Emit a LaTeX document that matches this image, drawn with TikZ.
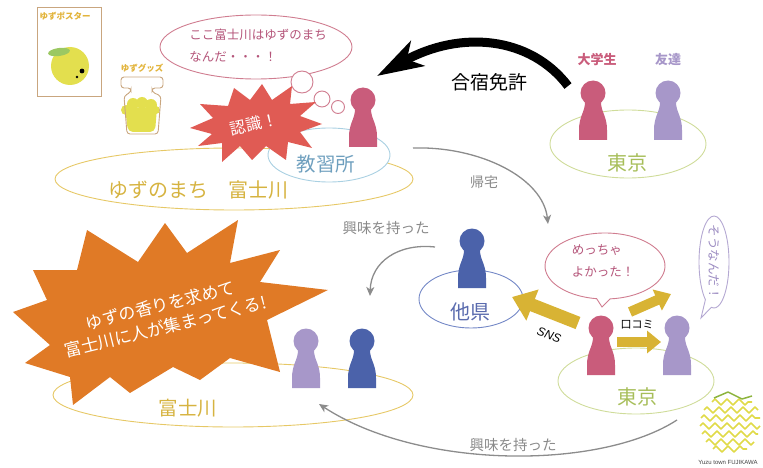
\documentclass[tikz,border=0pt]{standalone}
\usepackage{fontspec}
\setmainfont{Noto Sans CJK JP}
\newfontfamily\latinsans{Liberation Sans}
\usetikzlibrary{arrows.meta,shapes.geometric,decorations.pathmorphing}

\definecolor{pawnpink}{HTML}{C95C7B}
\definecolor{pawnlav}{HTML}{A797C9}
\definecolor{pawnblue}{HTML}{4B62AA}
\definecolor{goldline}{HTML}{E6C866}
\definecolor{goldtext}{HTML}{D6B340}
\definecolor{tokyoline}{HTML}{CFDC9A}
\definecolor{tokyotext}{HTML}{A7BE5A}
\definecolor{schoolline}{HTML}{A9D0E2}
\definecolor{schooltext}{HTML}{6E9FBE}
\definecolor{prefline}{HTML}{7387C6}
\definecolor{preftext}{HTML}{5A6BAE}
\definecolor{bubblepink}{HTML}{D07D90}
\definecolor{textpink}{HTML}{B5557A}
\definecolor{lavline}{HTML}{B4A8D2}
\definecolor{lavtext}{HTML}{9C8CC2}
\definecolor{arrowgrey}{HTML}{8C8C8C}
\definecolor{textgrey}{HTML}{8A8A8A}
\definecolor{arrowgold}{HTML}{D8B334}
\definecolor{burstred}{HTML}{E05B54}
\definecolor{burstorange}{HTML}{E07A26}
\definecolor{yuzu}{HTML}{E3DF4E}
\definecolor{leaf}{HTML}{9BC862}
\definecolor{frame}{HTML}{C9A67F}
\definecolor{posterlbl}{HTML}{E2B43C}
\definecolor{logoyellow}{HTML}{E0DA48}
\definecolor{logogreen}{HTML}{8DB43E}

\newcommand\jsz[2]{\fontsize{#1}{#2}\selectfont}

\tikzset{
  lbl/.style={inner sep=0pt, outer sep=0pt},
  place/.style={ellipse, draw, inner sep=0pt, line width=0.9pt},
  greyarrow/.style={draw=arrowgrey, line width=1.3pt,
    -{Stealth[length=9pt,width=8pt,inset=2.5pt]}},
  goldarrow/.style={draw=arrowgold},
  pawn/.pic={
    \fill (0,-47) circle (12.5);
    \fill (-14,0) -- (-14,-10) .. controls (-14,-24) and (-8,-28) .. (-8,-38)
      -- (8,-38) .. controls (8,-28) and (14,-24) .. (14,-10) -- (14,0) -- cycle;
  }
}

\begin{document}
\begin{tikzpicture}[x=1pt,y=-1pt]
\useasboundingbox (0,0) rectangle (763,468);

% ---- poster and goods ----
\node[draw=frame, line width=1.2pt, minimum width=64pt, minimum height=89pt,
      inner sep=0pt, anchor=north west] (poster) at (37,7) {};
\node[lbl, font=\jsz{8.5}{10}\bfseries, text=posterlbl] (posterlabel) at (65,16) {ゆずポスター};
\fill[yuzu] (70,66) circle (19);
\fill[leaf, rotate around={8:(59,52)}] (59,52) ellipse (11 and 4);
\fill (82,71) circle (2.4);
\fill (77,77) circle (1.4);

\node[lbl, font=\jsz{8.5}{10}\bfseries, text=posterlbl] (goodslabel) at (142,68) {ゆずグッズ};
\fill[yuzu] (126,110) circle (5) (133,104) circle (6) (142,103) circle (6)
            (151,105) circle (6) (156,110) circle (4);
\fill[yuzu, rounded corners=5] (125,108) -- (157,108) -- (155,132) -- (128,132) -- cycle;
\draw[frame, line width=0.9pt, rounded corners=3] (131,88) -- (121,88) -- (121,77)
  -- (163,77) -- (163,88) -- (152,88) -- (152,92) -- (161,96) -- (158,134)
  -- (127,134) -- (124,96) -- (131,92) -- cycle;

% ---- places ----
\node[place, draw=goldline, minimum width=358pt, minimum height=62pt] (yuzutown) at (234,179) {};
\node[place, draw=schoolline, fill=white, minimum width=122pt, minimum height=54pt] (school) at (329,155) {};
\node[place, draw=goldline, minimum width=360pt, minimum height=64pt] (fujikawa) at (233,395) {};
\node[place, draw=tokyoline, minimum width=156pt, minimum height=68pt] (tokyoA) at (628,144) {};
\node[place, draw=tokyoline, minimum width=156pt, minimum height=66pt] (tokyoB) at (636,381) {};
\node[place, draw=prefline, minimum width=104pt, minimum height=58pt] (pref) at (471,299) {};

\node[lbl, text=goldtext, font=\jsz{20}{24}] (yuzutownlbl) at (198,190) {ゆずのまち　富士川};
\node[lbl, text=schooltext, font=\jsz{19.5}{24}] (schoollbl) at (326,164) {教習所};
\node[lbl, text=goldtext, font=\jsz{19.5}{24}] (fujikawalbl) at (188,408) {富士川};
\node[lbl, text=tokyotext, font=\jsz{20}{24}] (tokyoAlbl) at (627,163) {東京};
\node[lbl, text=tokyotext, font=\jsz{20}{24}] (tokyoBlbl) at (637,397) {東京};
\node[lbl, text=preftext, font=\jsz{20}{24}] (preflbl) at (470,312) {他県};

% ---- thought bubble ----
\node[place, draw=bubblepink, fill=white, minimum width=192pt, minimum height=64pt] (thought) at (256,47) {};
\node[lbl, text=textpink, font=\jsz{12.5}{22}, align=left] (thoughttxt) at (258,46)
  {ここ富士川はゆずのまち\\なんだ・・・！};
\draw[bubblepink, line width=0.9pt, fill=white] (302,82) circle (11);
\draw[bubblepink, line width=0.9pt, fill=white] (322,99) circle (8);
\draw[bubblepink, line width=0.9pt, fill=white] (338,107) circle (6.5);

% ---- recognition burst ----
\fill[burstred] (190,128) -- (213,118) -- (200,104) -- (228,106) -- (234,88) -- (250,100)
  -- (262,84) -- (272,100) -- (292,86) -- (290,104) -- (316,102) -- (300,116)
  -- (322,124) -- (300,132) -- (312,148) -- (288,142) -- (286,160) -- (266,146)
  -- (252,160) -- (240,146) -- (222,162) -- (222,143) -- (198,146) -- (212,134) -- cycle;
\node[lbl, text=white, font=\jsz{16}{18}, rotate=13] (ninshiki) at (254,124) {認識！};

% ---- big orange burst ----
\fill[burstorange] (87,230) -- (138,262) -- (165,223) -- (187,253) -- (238,220) -- (230,263)
  -- (280,250) -- (260,282) -- (328,290) -- (267,320) -- (280,372) -- (230,358)
  -- (200,380) -- (173,367) -- (130,393) -- (110,377) -- (73,405) -- (70,377)
  -- (25,363) -- (50,345) -- (13,312) -- (47,300) -- (33,270) -- (77,270) -- cycle;
\node[lbl, text=white, font=\jsz{17}{22}, align=center, rotate=14] (gather) at (163,316)
  {ゆずの香りを求めて\\富士川に人が集まってくる!};

% ---- people ----
\pic[color=pawnpink] (studentA) at (363,147) {pawn};
\pic[color=pawnpink] (studentB) at (593,140) {pawn};
\pic[color=pawnlav]  (friendB)  at (668,140) {pawn};
\pic[color=pawnblue] (other)    at (472,288) {pawn};
\pic[color=pawnlav]  (visitorA) at (306,388) {pawn};
\pic[color=pawnblue] (visitorB) at (362,388) {pawn};
\pic[color=pawnpink] (studentC) at (601,375) {pawn};
\pic[color=pawnlav]  (friendC)  at (677,375) {pawn};

\node[lbl, text=pawnpink, font=\jsz{13}{15}\bfseries] (studentlbl) at (597,60) {大学生};
\node[lbl, text=pawnlav, font=\jsz{13}{15}\bfseries] (friendlbl) at (668,60) {友達};

% ---- camp licence arrow ----
\coordinate (campS) at (568,86);
\coordinate (campE) at (377,76);
\draw[line width=9pt, -{Stealth[length=46pt,width=28pt,inset=12pt]}]
  (campS) .. controls (530,36) and (460,30) .. (campE);
\node[lbl, font=\jsz{19}{22}] (camplbl) at (489,82) {合宿免許};

% ---- grey flows ----
\coordinate (homeS) at (413,148);
\coordinate (homeE) at (548,224);
\draw[greyarrow] (homeS) .. controls (480,146) and (543,178) .. (homeE);
\node[lbl, text=textgrey, font=\jsz{14}{16}] (homelbl) at (484,182) {帰宅};

\coordinate (intAS) at (435,247);
\coordinate (intAE) at (370,296);
\draw[greyarrow] (intAS) .. controls (398,243) and (371,262) .. (intAE);
\node[lbl, text=textgrey, font=\jsz{14.5}{16}] (intAlbl) at (386,228) {興味を持った};

\coordinate (intBS) at (677,420);
\coordinate (intBE) at (319,404);
\draw[greyarrow] (intBS) .. controls (600,470) and (420,470) .. (intBE);
\node[lbl, text=textgrey, font=\jsz{14.5}{16}] (intBlbl) at (513,445) {興味を持った};

% ---- speech bubbles ----
\draw[bubblepink, line width=0.9pt, fill=white] (602,307)
  -- ([shift={(605,266)}]98:60 and 33)
  arc[start angle=98, end angle=445, x radius=60, y radius=33] -- cycle;
\node[lbl, text=textpink, font=\jsz{12.5}{22}, align=left] (meccha) at (603,261)
  {めっちゃ\\よかった！};

\draw[lavline, line width=0.9pt, fill=white] (701,318)
  -- ([shift={(714,262)}]125:15 and 46)
  arc[start angle=125, end angle=460, x radius=15, y radius=46] -- cycle;
\node[lbl, text=lavtext, font=\jsz{12.5}{14}, rotate=-90] (sounanda) at (714,262) {そうなんだ！};

% ---- word of mouth arrows ----
\coordinate (snsS) at (578,323);
\coordinate (snsE) at (512,297);
\draw[goldarrow, line width=13pt, -{Triangle[length=22pt,width=32pt]}] (snsS) -- (snsE);
\node[lbl, font=\latinsans\itshape\jsz{12}{14}, rotate=-20] (snslbl) at (549,335) {SNS};

\coordinate (mouthS) at (617,342);
\coordinate (mouthE) at (661,342);
\draw[goldarrow, line width=10pt, -{Triangle[length=14pt,width=22pt]}] (mouthS) -- (mouthE);
\node[lbl, font=\jsz{11}{13}] (mouthlbl) at (637,325) {口コミ};

\coordinate (spreadS) at (630,312);
\coordinate (spreadE) at (671,294);
\draw[goldarrow, line width=10pt, -{Triangle[length=15pt,width=22pt]}] (spreadS) -- (spreadE);

% ---- town logo ----
\foreach \yy/\xa/\xb in {402/712/752, 410/704/758, 418/701/760, 426/700/760,
                         434/702/758, 442/706/754, 449/713/747}{
  \draw[logoyellow, line width=1.6pt, line join=round,
        decorate, decoration={zigzag, segment length=12pt, amplitude=3pt}]
    (\xa,\yy) -- (\xb,\yy);
}
\draw[logogreen, line width=1.5pt, line join=round] (714,398) -- (728,392) -- (742,399) -- (752,396);
\node[lbl, font=\latinsans\jsz{6}{7}, text=black!75] (logolbl) at (728,462) {Yuzu town FUJIKAWA};

\end{tikzpicture}
\end{document}
